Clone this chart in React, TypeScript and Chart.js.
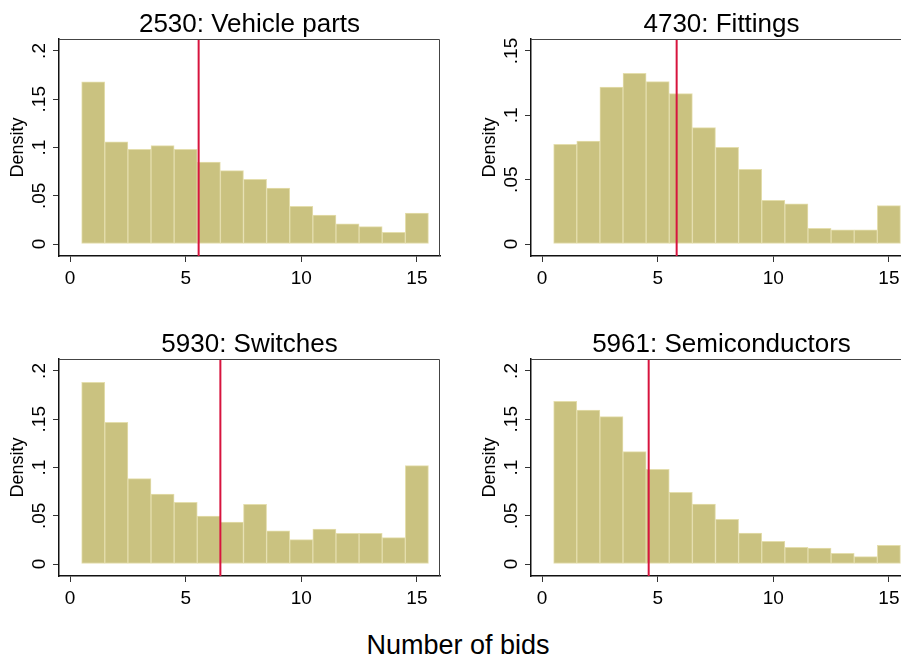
import React, { useEffect, useRef } from "react";
import { Chart, registerables } from "chart.js";

Chart.register(...registerables);

// ---------- data ----------
const binCenters = [1, 2, 3, 4, 5, 6, 7, 8, 9, 10, 11, 12, 13, 14, 15];

const xTickValues = [0, 5, 10, 15];
const xTickLabels = ["0", "5", "10", "15"];

const yTicksWide = [0, 0.05, 0.1, 0.15, 0.2];
const yLabelsWide = ["0", ".05", ".1", ".15", ".2"];
const yTicksNarrow = [0, 0.05, 0.1, 0.15];
const yLabelsNarrow = ["0", ".05", ".1", ".15"];

const panelTitles = [
  "2530: Vehicle parts",
  "4730: Fittings",
  "5930: Switches",
  "5961: Semiconductors",
];

const vehicleParts = [0.168, 0.106, 0.098, 0.102, 0.098, 0.085, 0.076, 0.067, 0.058, 0.039, 0.030, 0.021, 0.018, 0.012, 0.032];
const fittings = [0.0775, 0.080, 0.122, 0.1326, 0.1262, 0.1168, 0.0904, 0.0751, 0.058, 0.0339, 0.0313, 0.0122, 0.0111, 0.0111, 0.0298];
const switches = [0.1883, 0.1468, 0.0884, 0.0725, 0.0639, 0.0497, 0.0435, 0.0618, 0.0345, 0.0252, 0.0363, 0.0318, 0.0318, 0.0273, 0.1019];
const semiconductors = [0.1686, 0.1596, 0.1527, 0.1164, 0.0981, 0.0743, 0.0622, 0.0463, 0.0321, 0.0235, 0.0173, 0.0166, 0.011, 0.0076, 0.0193];

const meanBids = [5.56, 5.82, 6.5, 4.61];

const yRangeWide = [-0.0124, 0.2124];
const yRangeNarrow = [-0.0093, 0.1593];
const xRange = [-0.48, 16];

const xAxisTitle = "Number of bids";
const yAxisTitle = "Density";

// ---------- style ----------
const FONT = '"Liberation Sans", Arial, Helvetica, sans-serif';
const BAR_FILL = "#cac280";
const BAR_EDGE = "#e4dead";
const MEAN_COLOR = "#d7143e";

type PanelProps = {
  title: string;
  values: number[];
  mean: number;
  yTicks: number[];
  yLabels: string[];
  yRange: number[];
  left: number;
  top: number;
};

function Panel({ title, values, mean, yTicks, yLabels, yRange, left, top }: PanelProps) {
  const ref = useRef<HTMLCanvasElement | null>(null);

  useEffect(() => {
    if (!ref.current) return;

    const decor = {
      id: "decor",
      afterDraw(chart: any) {
        const { ctx, chartArea: a, scales } = chart;
        ctx.save();
        // frame (top and right)
        ctx.strokeStyle = "#444";
        ctx.lineWidth = 1;
        ctx.beginPath();
        ctx.moveTo(a.left, a.top + 0.5);
        ctx.lineTo(a.right - 0.5, a.top + 0.5);
        ctx.lineTo(a.right - 0.5, a.bottom);
        ctx.stroke();
        // title
        ctx.fillStyle = "#000";
        ctx.font = `26px ${FONT}`;
        ctx.textAlign = "center";
        ctx.textBaseline = "alphabetic";
        ctx.fillText(title, (a.left + a.right) / 2, 32);
        // rotated y tick labels
        ctx.font = `19px ${FONT}`;
        yTicks.forEach((v, i) => {
          const y = scales.y.getPixelForValue(v);
          ctx.save();
          ctx.translate(45, y);
          ctx.rotate(-Math.PI / 2);
          ctx.textAlign = "center";
          ctx.textBaseline = "alphabetic";
          ctx.fillText(yLabels[i], 0, 0);
          ctx.restore();
        });
        ctx.restore();
      },
    };

    const chart = new Chart(ref.current, {
      type: "bar",
      data: {
        datasets: [
          {
            type: "line",
            data: [
              { x: mean, y: yRange[0] },
              { x: mean, y: yRange[1] },
            ],
            borderColor: MEAN_COLOR,
            borderWidth: 2,
            pointRadius: 0,
            order: 0,
          } as any,
          {
            type: "bar",
            data: binCenters.map((b, i) => ({ x: b, y: values[i] })),
            backgroundColor: BAR_FILL,
            borderColor: BAR_EDGE,
            borderWidth: 1,
            borderSkipped: false,
            barPercentage: 1,
            categoryPercentage: 1,
            order: 1,
          } as any,
        ],
      },
      options: {
        responsive: false,
        animation: false,
        events: [],
        layout: { padding: { top: 39, right: 10, left: 0, bottom: 0 } },
        plugins: {
          legend: { display: false },
          tooltip: { enabled: false },
          title: { display: false },
        },
        scales: {
          x: {
            type: "linear",
            min: xRange[0],
            max: xRange[1],
            offset: false,
            afterBuildTicks: (scale: any) => {
              scale.ticks = xTickValues.map((v) => ({ value: v }));
            },
            afterFit: (scale: any) => {
              scale.height = 44;
            },
            grid: {
              display: true,
              offset: false,
              drawOnChartArea: false,
              drawTicks: true,
              tickLength: 6,
              color: "#333",
              lineWidth: 1,
            },
            border: { display: true, color: "#111", width: 1.5 },
            ticks: {
              autoSkip: false,
              maxRotation: 0,
              minRotation: 0,
              padding: 5,
              color: "#000",
              font: { family: FONT, size: 19 },
              callback: (v: any) => xTickLabels[xTickValues.indexOf(Number(v))] ?? "",
            },
          },
          y: {
            type: "linear",
            min: yRange[0],
            max: yRange[1],
            beginAtZero: false,
            afterBuildTicks: (scale: any) => {
              scale.ticks = yTicks.map((v) => ({ value: v }));
            },
            afterFit: (scale: any) => {
              scale.width = 59;
            },
            grid: {
              display: true,
              drawOnChartArea: false,
              drawTicks: true,
              tickLength: 6,
              color: "#333",
              lineWidth: 1,
            },
            border: { display: true, color: "#111", width: 1.5 },
            ticks: { display: false },
            title: {
              display: true,
              text: yAxisTitle,
              color: "#000",
              font: { family: FONT, size: 18 },
              padding: { top: 7, bottom: 0 },
            },
          },
        },
      } as any,
      plugins: [decor],
    });

    return () => chart.destroy();
  }, [title, values, mean, yTicks, yLabels, yRange]);

  return (
    <canvas
      ref={ref}
      width={450}
      height={300}
      style={{ position: "absolute", left, top, width: 450, height: 300 }}
    />
  );
}

export default function App() {
  return (
    <div
      style={{
        position: "fixed",
        left: 0,
        top: 0,
        width: 901,
        height: 662,
        overflow: "hidden",
        background: "#fff",
      }}
    >
      <Panel title={panelTitles[0]} values={vehicleParts} mean={meanBids[0]} yTicks={yTicksWide} yLabels={yLabelsWide} yRange={yRangeWide} left={0} top={0} />
      <Panel title={panelTitles[1]} values={fittings} mean={meanBids[1]} yTicks={yTicksNarrow} yLabels={yLabelsNarrow} yRange={yRangeNarrow} left={472} top={0} />
      <Panel title={panelTitles[2]} values={switches} mean={meanBids[2]} yTicks={yTicksWide} yLabels={yLabelsWide} yRange={yRangeWide} left={0} top={320} />
      <Panel title={panelTitles[3]} values={semiconductors} mean={meanBids[3]} yTicks={yTicksWide} yLabels={yLabelsWide} yRange={yRangeWide} left={472} top={320} />
      <div
        style={{
          position: "absolute",
          left: 458,
          top: 632,
          transform: "translateX(-50%)",
          fontFamily: FONT,
          fontSize: 27,
          lineHeight: "27px",
          whiteSpace: "nowrap",
          color: "#000",
        }}
      >
        {xAxisTitle}
      </div>
    </div>
  );
}
